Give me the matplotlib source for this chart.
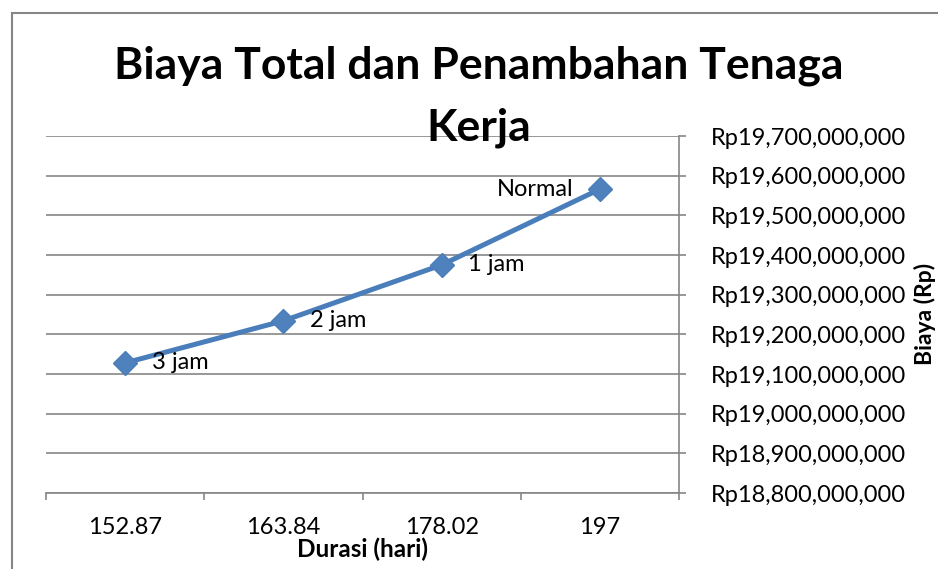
import matplotlib.pyplot as plt
from matplotlib.patches import Rectangle
from matplotlib.ticker import FuncFormatter, FixedLocator

plt.rcParams['font.family'] = ['Lato', 'DejaVu Sans']

# Data
durasi = ['152.87', '163.84', '178.02', '197']
biaya = [19128000000, 19234000000, 19375000000, 19566000000]
label_titik = ['3 jam', '2 jam', '1 jam', 'Normal']
y_ticks = [18800000000 + i * 100000000 for i in range(10)]

fig = plt.figure(figsize=(9.38, 5.69), dpi=100)
ax = fig.add_axes([46 / 938, 1 - 493 / 569, (679 - 46) / 938, (493 - 136) / 569])

grey = '#868686'
blue = '#4A7EBB'

# Line with diamond markers
ax.plot(durasi, biaya, color=blue, linewidth=3.6, marker='D', markersize=12,
        markerfacecolor='#4F81BD', markeredgecolor=blue, zorder=3)

# Point labels (right of point, Normal to the left)
for i, (lbl, val) in enumerate(zip(label_titik, biaya)):
    if lbl == 'Normal':
        ax.annotate(lbl, (i, val), xytext=(-19, 0), textcoords='offset points',
                    ha='right', va='center', fontsize=17)
    else:
        ax.annotate(lbl, (i, val), xytext=(19, 0), textcoords='offset points',
                    ha='left', va='center', fontsize=17)

# Axes limits and ticks
ax.set_xlim(-0.5, 3.5)
ax.set_ylim(y_ticks[0], y_ticks[-1])
ax.yaxis.tick_right()
ax.yaxis.set_major_locator(FixedLocator(y_ticks))
ax.yaxis.set_major_formatter(FuncFormatter(lambda v, p: f'Rp{v:,.0f}'))
ax.xaxis.set_minor_locator(FixedLocator([-0.5, 0.5, 1.5, 2.5, 3.5]))
ax.tick_params(axis='x', which='major', length=0, pad=17, labelsize=17)
ax.tick_params(axis='x', which='minor', length=5, width=1.2, color=grey, direction='out')
ax.tick_params(axis='y', which='major', length=5, width=1.2, color=grey, direction='out',
               pad=18, labelsize=17)

# Grid and spines
ax.grid(True, axis='y', color=grey, linewidth=1.2)
ax.set_axisbelow(True)
for side in ['top', 'left']:
    ax.spines[side].set_visible(False)
for side in ['bottom', 'right']:
    ax.spines[side].set_color(grey)
    ax.spines[side].set_linewidth(1.2)

# Axis titles
ax.set_xlabel('Durasi (hari)', fontsize=17.5, fontweight='bold', labelpad=0)
fig.text(925 / 938, 1 - 314 / 569, 'Biaya (Rp)', rotation=90, ha='center', va='center',
         fontsize=16.5, fontweight='bold')

# Chart title
fig.text(479 / 938, 1 - 78 / 569, 'Biaya Total dan Penambahan Tenaga', ha='center',
         va='baseline', fontsize=32, fontweight='bold')
fig.text(479 / 938, 1 - 141 / 569, 'Kerja', ha='center', va='baseline',
         fontsize=32, fontweight='bold')

# Chart area border
fig.patches.append(Rectangle((11.5 / 938, -0.1), 1.2, 1 - 12.5 / 569 + 0.1,
                             transform=fig.transFigure, fill=False,
                             edgecolor=grey, linewidth=1.5))

fig.savefig('out.png', dpi=100)
